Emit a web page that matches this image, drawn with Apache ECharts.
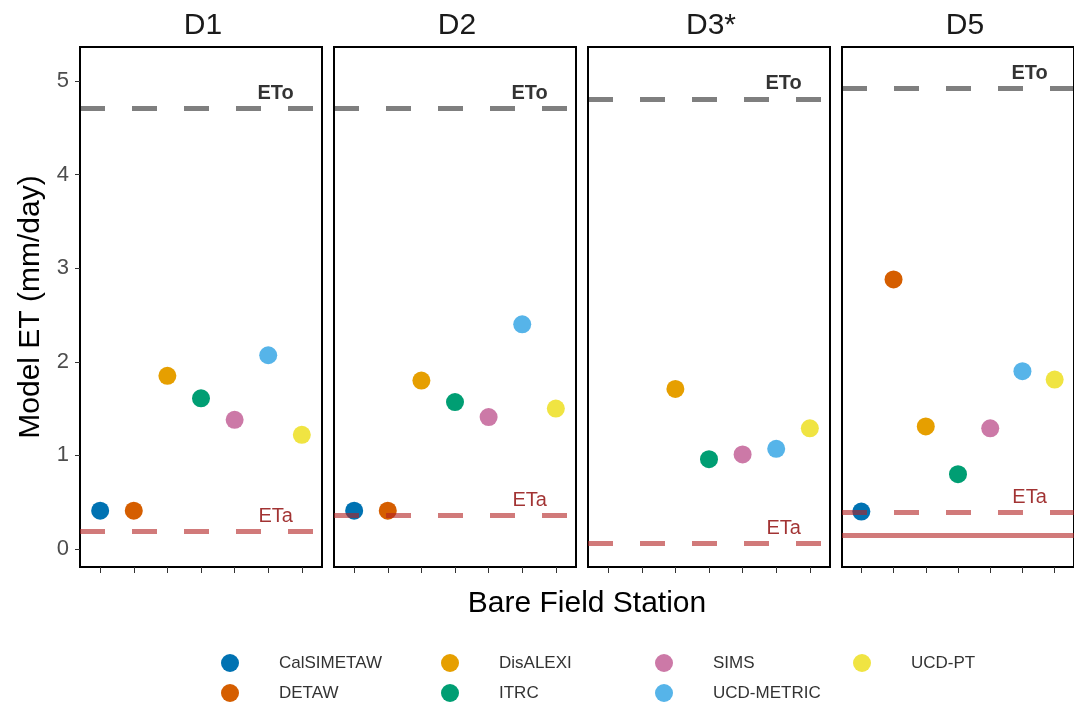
<!DOCTYPE html>
<html>
<head>
<meta charset="utf-8">
<script src="https://cdn.jsdelivr.net/npm/echarts@6/dist/echarts.min.js"></script>
<style>
html,body{margin:0;padding:0;background:#fff;}
#chart{width:1074px;height:706px;}
</style>
</head>
<body>
<div id="chart"></div>
<script>
// ---- data ----
const models = ['CalSIMETAW','DETAW','DisALEXI','ITRC','SIMS','UCD-METRIC','UCD-PT'];
const modelColors = ['#0072B2','#D55E00','#E69F00','#009E73','#CC79A7','#56B4E9','#F0E442'];
const panelNames = ['D1','D2','D3*','D5'];
const valuesD1 = [0.41, 0.41, 1.85, 1.61, 1.38, 2.07, 1.22];
const valuesD2 = [0.41, 0.41, 1.80, 1.57, 1.41, 2.40, 1.50];
const valuesD3 = [null, null, 1.71, 0.96, 1.01, 1.07, 1.29];
const valuesD5 = [0.40, 2.88, 1.31, 0.80, 1.29, 1.90, 1.81];
const etoValues = [4.71, 4.71, 4.81, 4.92];
const etaValues = [0.19, 0.36, 0.06, 0.39];
const solidEtaValues = [null, null, null, 0.15];
const yTicks = [0, 1, 2, 3, 4, 5];
const xTicks = [1, 2, 3, 4, 5, 6, 7];
const panelValues = [valuesD1, valuesD2, valuesD3, valuesD5];

// ---- layout ----
const FONT = "'Liberation Sans', Arial, sans-serif";
const panelLeft = [80, 334, 588, 842];
const panelWidth = 242, panelTop = 47, panelHeight = 520;
const labelX = 6.22;

const grids = [], xAxes = [], yAxes = [], series = [], titles = [];
panelNames.forEach((name, p) => {
  grids.push({left: panelLeft[p], top: panelTop, width: panelWidth, height: panelHeight,
    show: true, borderColor: '#000', borderWidth: 2, backgroundColor: 'transparent'});
  xAxes.push({type: 'value', gridIndex: p, min: 0.4, max: 7.6, position: 'bottom',
    axisLine: {show: false, onZero: false}, splitLine: {show: false},
    axisTick: {show: true, inside: false, customValues: xTicks, length: 6, lineStyle: {color: '#333', width: 1}},
    axisLabel: {show: false}});
  yAxes.push({type: 'value', gridIndex: p, min: -0.192, max: 5.363, position: 'left',
    axisLine: {show: false, onZero: false}, splitLine: {show: false},
    axisTick: {show: p === 0, inside: false, customValues: yTicks, length: 5, lineStyle: {color: '#333', width: 1}},
    axisLabel: {show: p === 0, customValues: yTicks, fontSize: 22, color: '#4D4D4D', margin: 11, fontFamily: FONT},
    name: p === 0 ? 'Model ET (mm/day)' : '', nameLocation: 'middle', nameGap: 34,
    nameTextStyle: {fontSize: 30, color: '#000', fontFamily: FONT}});
  titles.push({text: name, left: panelLeft[p] + panelWidth / 2 - 3, top: 6, textAlign: 'center',
    textStyle: {fontSize: 30, fontWeight: 'normal', color: '#1a1a1a', fontFamily: FONT}});

  models.forEach((m, i) => {
    const v = panelValues[p][i];
    series.push({type: 'scatter', name: m, xAxisIndex: p, yAxisIndex: p,
      data: v == null ? [] : [[xTicks[i], v]], symbol: 'circle', symbolSize: 18,
      itemStyle: {color: modelColors[i], opacity: 1}, z: 2, emphasis: {disabled: true}});
  });

  const lines = [
    {yAxis: etoValues[p], lineStyle: {color: 'rgba(0,0,0,0.5)', width: 5, type: [25, 27], cap: 'butt'}},
    {yAxis: etaValues[p], lineStyle: {color: 'rgba(178,34,34,0.6)', width: 5, type: [25, 27], cap: 'butt'}}
  ];
  if (solidEtaValues[p] != null) {
    lines.push({yAxis: solidEtaValues[p], lineStyle: {color: 'rgba(178,34,34,0.6)', width: 5, type: 'solid'}});
  }
  series.push({type: 'scatter', name: 'ref' + p, xAxisIndex: p, yAxisIndex: p, z: 5, silent: true,
    symbolSize: 1, itemStyle: {color: 'rgba(0,0,0,0)'},
    data: [
      {value: [labelX, etoValues[p]], label: {formatter: 'ETo', color: '#000', fontWeight: 'bold'}},
      {value: [labelX, etaValues[p]], label: {formatter: 'ETa', color: '#8B0000', fontWeight: 'normal'}}
    ],
    label: {show: true, position: 'inside', offset: [0, -15], fontSize: 20, fontFamily: FONT},
    markLine: {silent: true, symbol: ['none', 'none'], label: {show: false}, animation: false, data: lines}
  });
});

titles.push({text: 'Bare Field Station', left: 582, top: 584, textAlign: 'center',
  textStyle: {fontSize: 30, fontWeight: 'normal', color: '#000', fontFamily: FONT}});

const legendCols = [[models[0], models[1]], [models[2], models[3]], [models[4], models[5]], [models[6]]];
const legendDotX = [230, 450, 664, 862];
const legends = legendCols.map((cols, k) => ({
  data: cols, left: legendDotX[k] - 9, top: 654, orient: 'vertical', icon: 'circle',
  padding: 0, height: 60, width: 200,
  itemWidth: 18, itemHeight: 18, itemGap: 12, selectedMode: false,
  textStyle: {fontSize: 17, color: '#333', fontFamily: FONT, padding: [0, 0, 0, 35]}
}));

const chart = echarts.init(document.getElementById('chart'), null, {renderer: 'canvas'});
chart.setOption({
  animation: false,
  backgroundColor: '#fff',
  title: titles,
  grid: grids,
  xAxis: xAxes,
  yAxis: yAxes,
  legend: legends,
  series: series
});
</script>
</body>
</html>
